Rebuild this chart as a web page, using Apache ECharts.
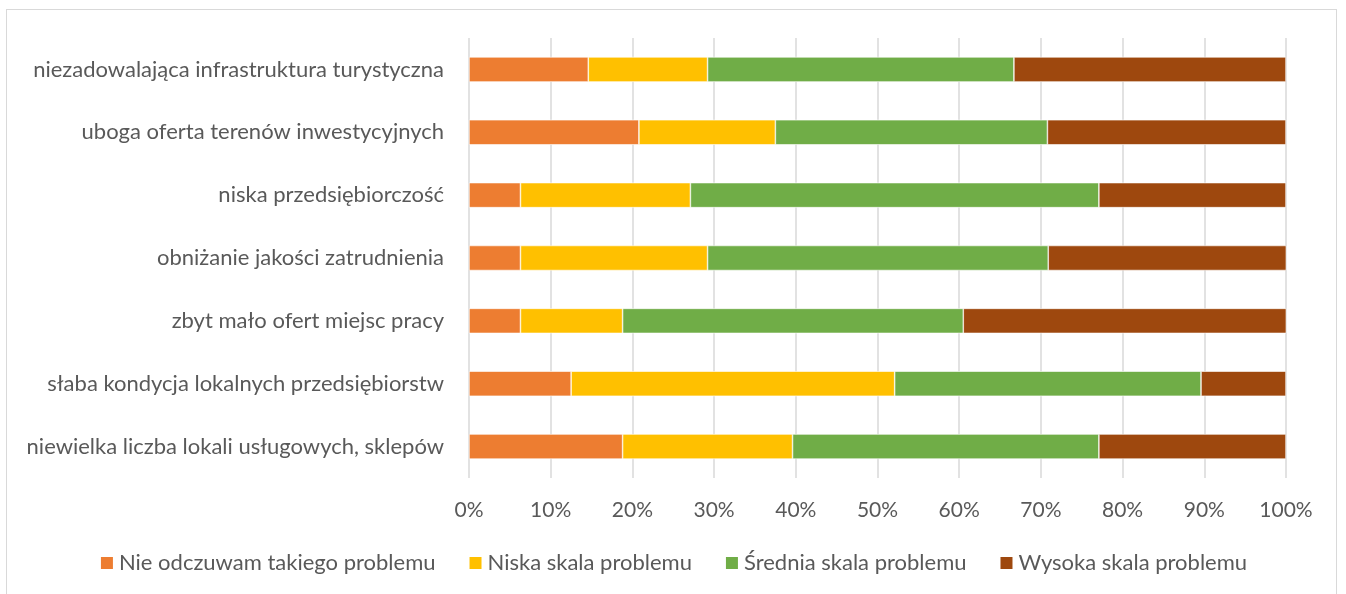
<!DOCTYPE html>
<html>
<head>
<meta charset="utf-8">
<script src="https://cdn.jsdelivr.net/npm/echarts@6/dist/echarts.min.js"></script>
<style>
  html, body { margin: 0; padding: 0; background: #fff; }
  #frame { position: absolute; left: 6px; top: 9px; width: 1331px; height: 600px; border: 1px solid #d9d9d9; box-sizing: border-box; }
  #chart { position: absolute; left: 0; top: 0; width: 1346px; height: 594px; }
</style>
</head>
<body>
<div id="frame"></div>
<div id="chart"></div>
<script>
// categories top to bottom
const categories = [
  'niezadowalająca infrastruktura turystyczna',
  'uboga oferta terenów inwestycyjnych',
  'niska przedsiębiorczość',
  'obniżanie jakości zatrudnienia',
  'zbyt mało ofert miejsc pracy',
  'słaba kondycja lokalnych przedsiębiorstw',
  'niewielka liczba lokali usługowych, sklepów'
];
const seriesNames = [
  'Nie odczuwam takiego problemu',
  'Niska skala problemu',
  'Średnia skala problemu',
  'Wysoka skala problemu'
];
// percentages
const nieOdczuwam = [14.6, 20.8, 6.3, 6.3, 6.3, 12.5, 18.8];
const niska = [14.6, 16.7, 20.8, 22.9, 12.5, 39.6, 20.8];
const srednia = [37.5, 33.3, 50.0, 41.7, 41.7, 37.5, 37.5];
const wysoka = [33.3, 29.2, 22.9, 29.2, 39.6, 10.4, 22.9];
const xTicks = ['0%', '10%', '20%', '30%', '40%', '50%', '60%', '70%', '80%', '90%', '100%'];

const colors = ['#ED7D31', '#FFC000', '#70AD47', '#9E480E'];
const values = [nieOdczuwam, niska, srednia, wysoka];
const fontFam = 'Lato, "Open Sans", sans-serif';

const chart = echarts.init(document.getElementById('chart'));

var series = [];
for (var i = 0; i < seriesNames.length; i++) {
  series.push({
    name: seriesNames[i],
    type: 'bar',
    stack: 'total',
    barWidth: 25,
    data: values[i],
    itemStyle: { color: colors[i], borderColor: '#fff', borderWidth: 0.6 }
  });
}

chart.setOption({
  animation: false,
  color: colors,
  textStyle: { fontFamily: fontFam },
  grid: { left: 469, right: 60, top: 38, bottom: 116, containLabel: false },
  legend: {
    bottom: 15,
    left: 'center',
    itemWidth: 14,
    itemHeight: 14,
    itemGap: 32,
    icon: 'rect',
    textStyle: { fontSize: 22, color: '#595959', fontFamily: fontFam },
    data: seriesNames
  },
  xAxis: {
    type: 'value',
    min: 0,
    max: 100,
    interval: 10,
    axisLine: { show: false },
    axisTick: { show: false },
    splitLine: { lineStyle: { color: '#d9d9d9', width: 1.5 } },
    axisLabel: {
      color: '#595959',
      fontSize: 21,
      margin: 22,
      formatter: v => xTicks[Math.round(v / 10)]
    }
  },
  yAxis: {
    type: 'category',
    inverse: true,
    data: categories,
    axisLine: { show: false },
    axisTick: { show: false },
    axisLabel: { color: '#595959', fontSize: 22, margin: 25 }
  },
  series: series
});
</script>
</body>
</html>
